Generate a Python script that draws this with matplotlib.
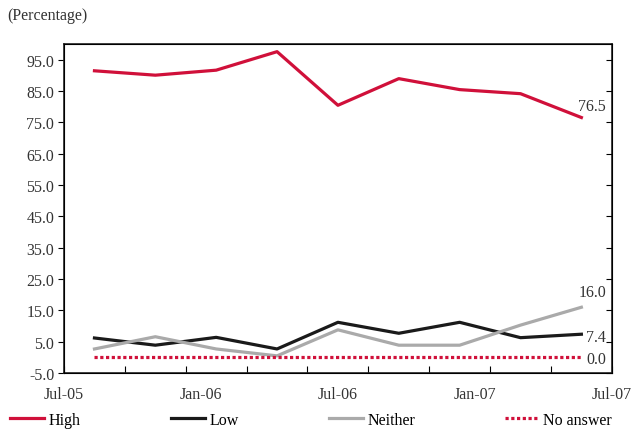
import matplotlib.pyplot as plt
import numpy as np

plt.rcParams['font.family'] = ['Liberation Serif', 'DejaVu Serif']

high = [91.4, 90.0, 91.6, 97.5, 80.4, 88.9, 85.4, 84.1, 76.5]
low = [6.2, 3.9, 6.4, 2.7, 11.2, 7.7, 11.2, 6.3, 7.4]
neither = [2.7, 6.6, 2.7, 0.5, 8.8, 3.9, 3.9, 10.3, 16.0]
no_answer = [0.0, 0.0, 0.0, 0.0, 0.0, 0.0, 0.0, 0.0, 0.0]
date_labels = ['Jul-05', 'Jan-06', 'Jul-06', 'Jan-07', 'Jul-07']
label_pos = [-0.5, 1.75, 4.0, 6.25, 8.5]

x = np.arange(len(high))
fs = 11.5
tc = '#333333'

fig = plt.figure(figsize=(6.34, 4.31), dpi=100)
ax = fig.add_axes([0.101, 0.132, 0.864, 0.764])

red = '#d0103a'
l1, = ax.plot(x, high, color=red, lw=2.3, label='High')
l2, = ax.plot(x, low, color='#1a1a1a', lw=2.3, label='Low')
l3, = ax.plot(x, neither, color='#aaaaaa', lw=2.3, label='Neither')
l4, = ax.plot(x, no_answer, color=red, lw=2.3, ls=(0, (1, 0.8)), label='No answer')

ax.set_xlim(-0.5, 8.5)
ax.set_ylim(-5, 100)
ax.set_yticks(np.arange(-5, 96, 10))
ax.set_yticklabels([f'{v:.1f}' for v in np.arange(-5, 96, 10)], fontsize=fs, color=tc)
ax.tick_params(axis='y', direction='out', length=4, pad=3)
ax.set_xticks(np.arange(-0.5, 8.6, 1))
ax.set_xticklabels([])
ax.tick_params(axis='x', direction='in', length=5)
for sp in ax.spines.values():
    sp.set_linewidth(1.2)
    sp.set_color('#222222')

# right spine ticks go inward
ax2 = ax.twinx()
ax2.set_ylim(ax.get_ylim())
ax2.set_yticks(np.arange(-5, 96, 10))
ax2.set_yticklabels([])
ax2.tick_params(axis='y', direction='in', length=4)

for p, lab in zip(label_pos, date_labels):
    ax.text(p, -9.0, lab, ha='center', va='top', fontsize=fs, color=tc)

ax.text(7.95, 80.3, f'{high[-1]:.1f}', ha='left', va='center', fontsize=fs, color=tc)
ax.text(7.95, 21.0, f'{neither[-1]:.1f}', ha='left', va='center', fontsize=fs, color=tc)
ax.text(8.08, 6.6, f'{low[-1]:.1f}', ha='left', va='center', fontsize=fs, color=tc)
ax.text(8.08, -0.6, f'{no_answer[-1]:.1f}', ha='left', va='center', fontsize=fs, color=tc)

fig.text(0.012, 0.962, '(Percentage)', ha='left', va='center', fontsize=fs, color=tc)

# legend entries placed one by one along the bottom
for h, xs in zip([l1, l2, l3, l4], [10, 171, 329, 505]):
    fig.legend(handles=[h], loc='center left', bbox_to_anchor=(xs / 634, 1 - 421 / 431),
               frameon=False, fontsize=fs, handlelength=2.1, handletextpad=0.3,
               borderpad=0, borderaxespad=0)

fig.savefig('out.png', dpi=100)
